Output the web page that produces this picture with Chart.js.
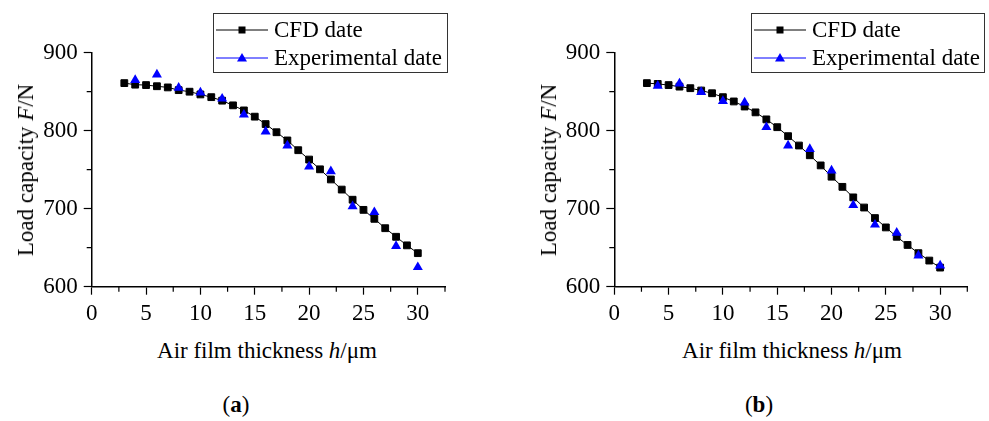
<!DOCTYPE html>
<html>
<head>
<meta charset="utf-8">
<script src="https://cdn.jsdelivr.net/npm/chart.js"></script>
<style>
  body { margin: 0; background: #fff; }
  #wrap { position: relative; width: 989px; height: 421px; background: #fff;
          font-family: "Liberation Serif", "Times New Roman", serif; color: #000; }
  .box { position: absolute; top: 0; height: 335px; }
  .ytitle, .xtitle, .cap { position: absolute; font-size: 23px; white-space: nowrap; }
  .ytitle { transform: translate(-50%, -50%) rotate(-90deg); }
  .xtitle, .cap { transform: translate(-50%, -50%); }
</style>
</head>
<body>
<div id="wrap">
  <div class="box" style="left:0;width:470px"><canvas id="chartA"></canvas></div>
  <div class="box" style="left:520px;width:469px"><canvas id="chartB"></canvas></div>

  <div class="ytitle" style="left:26px;top:170px">Load capacity <i>F</i>/N</div>
  <div class="ytitle" style="left:549px;top:170px">Load capacity <i>F</i>/N</div>
  <div class="xtitle" style="left:267px;top:351px">Air film thickness <i>h</i>/μm</div>
  <div class="xtitle" style="left:792px;top:351px">Air film thickness <i>h</i>/μm</div>
  <div class="cap" style="left:236px;top:405px">(<b>a</b>)</div>
  <div class="cap" style="left:759px;top:405px">(<b>b</b>)</div>
</div>

<script>
// air film thickness (um) for the CFD curve and for the test points
const thickness = [3, 4, 5, 6, 7, 8, 9, 10, 11, 12, 13, 14, 15, 16, 17, 18, 19, 20,
                   21, 22, 23, 24, 25, 26, 27, 28, 29, 30];
const expThickness = [4, 6, 8, 10, 12, 14, 16, 18, 20, 22, 24, 26, 28, 30];

// (a)
const cfdA = [861, 859, 858.5, 857, 855.5, 852, 850, 846.5, 843, 838.5, 832.5, 826, 818, 808.5,
              798, 787.5, 775, 763, 750.5, 737.5, 724.5, 711.5, 698.5, 687, 675, 664, 653, 643];
const expA = [865, 872, 855, 849, 841, 820.5, 799, 781, 754, 748, 703, 695.5, 652, 625];

// (b)
const cfdB = [861, 860, 858.5, 856.5, 854.5, 851.5, 848, 843, 837.5, 831, 823.5, 814.5, 804.5, 793,
              781, 768.5, 755.5, 741, 728, 714.5, 701.5, 688, 676, 664, 653.5, 643, 633.5, 624.5];
const expB = [857.5, 860.5, 849.5, 838, 836, 804.5, 781, 776.5, 749, 704.5, 679.5, 669, 640, 627];

const xTicks = [0, 5, 10, 15, 20, 25, 30];
const yTicks = [600, 700, 800, 900];
const legendLabels = ["CFD date", "Experimental date"];

const FONT = "'Liberation Serif', 'Times New Roman', serif";

// short minor ticks + framed legend drawn on top
const extras = {
  id: "extras",
  afterDraw(chart, args, opts) {
    const ctx = chart.ctx;
    const xs = chart.scales.x, ys = chart.scales.y;
    ctx.save();
    ctx.strokeStyle = "#000";
    ctx.lineWidth = 1.2;
    ctx.beginPath();
    for (let v = 2.5; v <= 32.5; v += 5) {
      const px = xs.getPixelForValue(v);
      ctx.moveTo(px, ys.bottom);
      ctx.lineTo(px, ys.bottom + 5);
    }
    for (let v = 650; v < 900; v += 100) {
      const py = ys.getPixelForValue(v);
      ctx.moveTo(xs.left - 5, py);
      ctx.lineTo(xs.left, py);
    }
    ctx.stroke();

    // legend
    const [l, t, r, b] = opts.box;
    ctx.fillStyle = "#fff";
    ctx.fillRect(l, t, r - l, b - t);
    ctx.strokeStyle = "#333";
    ctx.lineWidth = 1;
    ctx.strokeRect(l + 0.5, t + 0.5, r - l, b - t);

    const rows = [t + 17, t + 45];
    const colors = ["#000", "#0000ff"];
    rows.forEach((y, i) => {
      ctx.strokeStyle = colors[i];
      ctx.lineWidth = 1;
      ctx.beginPath();
      ctx.moveTo(l + 3, y);
      ctx.lineTo(l + 55, y);
      ctx.stroke();
      ctx.fillStyle = colors[i];
      const cx = l + 29;
      if (i === 0) {
        ctx.fillRect(cx - 3.5, y - 3.5, 7, 7);
      } else {
        ctx.beginPath();
        ctx.moveTo(cx, y - 5);
        ctx.lineTo(cx + 5, y + 3.5);
        ctx.lineTo(cx - 5, y + 3.5);
        ctx.closePath();
        ctx.fill();
      }
      ctx.fillStyle = "#000";
      ctx.font = "23px " + FONT;
      ctx.textBaseline = "middle";
      ctx.fillText(legendLabels[i], l + 61, y + 1);
    });
    ctx.restore();
  }
};

function makeChart(id, cfd, exp, yAxisWidth, padRight, legendBox) {
  const ctx = document.getElementById(id).getContext("2d");
  return new Chart(ctx, {
    type: "scatter",
    data: {
      datasets: [
        {
          label: legendLabels[1],
          data: expThickness.map((h, i) => ({ x: h, y: exp[i] })),
          pointStyle: "triangle",
          pointRadius: 5.8,
          backgroundColor: "#0000ff",
          borderColor: "#0000ff",
          borderWidth: 0,
          showLine: false,
        },
        {
          label: legendLabels[0],
          data: thickness.map((h, i) => ({ x: h, y: cfd[i] })),
          pointStyle: "rect",
          pointRadius: 4.8,
          backgroundColor: "#000",
          borderColor: "#000",
          borderWidth: 1,
          showLine: true,
          fill: false,
        },
      ],
    },
    options: {
      responsive: true,
      maintainAspectRatio: false,
      animation: false,
      layout: { padding: { top: 52.7, right: padRight, left: 0, bottom: 0 } },
      plugins: {
        legend: { display: false },
        tooltip: { enabled: false },
        extras: { box: legendBox },
      },
      scales: {
        x: {
          type: "linear",
          min: 0,
          max: 32.5,
          afterFit: (s) => { s.height = 335 - 286.7; },
          afterBuildTicks: (s) => {
            s.ticks = xTicks.map((v) => ({ value: v }));
          },
          ticks: {
            color: "#000",
            padding: 5,
            maxRotation: 0,
            font: { family: FONT, size: 23 },
          },
          grid: { drawOnChartArea: false, tickLength: 8, tickColor: "#000", tickWidth: 1.2 },
          border: { color: "#000", width: 1.5 },
        },
        y: {
          type: "linear",
          min: 600,
          max: 900,
          afterFit: (s) => { s.width = yAxisWidth; },
          afterBuildTicks: (s) => {
            s.ticks = yTicks.map((v) => ({ value: v }));
          },
          ticks: {
            color: "#000",
            padding: 6,
            font: { family: FONT, size: 23 },
          },
          grid: { drawOnChartArea: false, tickLength: 8, tickColor: "#000", tickWidth: 1.2 },
          border: { color: "#000", width: 1.5 },
        },
      },
    },
    plugins: [extras],
  });
}

makeChart("chartA", cfdA, expA, 91.7, 25, [213, 13, 447, 72]);
makeChart("chartB", cfdB, expB, 94.3, 21.7, [231, 13, 464, 72]);
</script>
</body>
</html>
